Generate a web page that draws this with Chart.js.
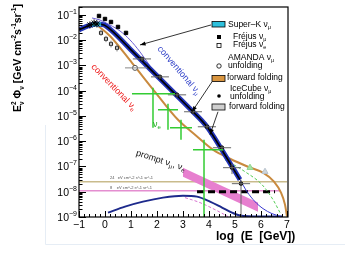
<!DOCTYPE html>
<html>
<head>
<meta charset="utf-8">
<script src="https://cdn.jsdelivr.net/npm/chart.js@4.4.0/dist/chart.umd.min.js"></script>
<style>
  html, body { margin: 0; padding: 0; background: #fff; }
  #wrap { width: 345px; height: 259px; }
</style>
</head>
<body>
<div id="wrap"><canvas id="c" width="345" height="259"></canvas></div>
<script>
const FONT = '"Liberation Sans", Arial, Helvetica, sans-serif';

// x = log10(E / GeV), y = E^2 * flux  [GeV cm^-2 s^-1 sr^-1]
const xTicks = [-1, 0, 1, 2, 3, 4, 5, 6, 7];
const yTickExp = [-1, -2, -3, -4, -5, -6, -7, -8, -9];

// conventional nu_mu (thick band)
const convMuE = [-1.0, -0.654, -0.346, -0.038, 0.269, 0.962, 1.731, 2.5, 3.269, 3.923, 4.538, 5.192];
const convMuF = [2.55e-2, 3.67e-2, 4.41e-2, 4.03e-2, 2.33e-2, 4.53e-3, 7.34e-4, 1.19e-4, 1.93e-5, 3.74e-6, 3.85e-7, 3.01e-8];
// high energy tail of the band
const muTailE = [5.192, 5.462, 5.769, 6.077, 6.423, 6.769];
const muTailF = [3.01e-8, 1.01e-8, 4.06e-9, 2.15e-9, 1.36e-9, 1.04e-9];
// upper thin curve at low energy
const muUpE = [-0.5, -0.192, 0.192, 0.577, 0.962, 1.346, 1.731];
const muUpF = [7.6e-2, 6.3e-2, 4.0e-2, 2.33e-2, 1.03e-2, 3.45e-3, 9.6e-4];
// orange curve (conventional nu_e / AMANDA forward folding)
const orangeE = [-0.308, 0.192, 1.038, 1.923, 2.808, 3.462, 4.154, 4.808, 5.5, 6.077, 6.5, 6.769, 6.923, 7.0];
const orangeF = [4.03e-2, 1.48e-2, 1.27e-3, 9.06e-5, 7.08e-6, 1.81e-6, 4.61e-7, 2.03e-7, 9.8e-8, 5.69e-8, 2.51e-8, 9.2e-9, 3.09e-9, 1.04e-9];
// green dashed
const greenDashE = [4.615, 5.385, 6.038, 6.462, 6.731];
const greenDashF = [1.86e-7, 6.22e-8, 1.91e-8, 4.87e-9, 1.49e-9];
// lower navy curve
const navyE = [0.115, 0.769, 1.462, 2.231, 3.0, 3.538, 4.038, 4.5, 4.885, 5.192, 5.962, 6.808];
const navyF = [1.49e-9, 2.58e-9, 4.06e-9, 5.85e-9, 7.01e-9, 6.40e-9, 4.06e-9, 2.36e-9, 1.49e-9, 1.14e-9, 1.04e-9, 1.04e-9];
// pink dashed
const pinkDashE = [3.077, 3.654, 4.231, 4.731];
const pinkDashF = [5.85e-9, 3.71e-9, 1.96e-9, 1.04e-9];
// prompt band
const promptE = [3.0, 5.885];
const promptHi = [8.97e-8, 3.71e-9];
const promptLo = [3.95e-8, 1.63e-9];
// horizontal reference levels
const tanE = [-1, 7];
const tanF = [2.51e-8, 2.51e-8];
const pinkE = [-1, 6.73];
const pinkF = [1.1e-8, 1.1e-8];
const blackDashE = [3.54, 6.54];
const blackDashF = [1.0e-8, 1.0e-8];
// Super-K
const superKE = [-0.5, -0.15];
const superKF = [4.2e-2, 4.3e-2];
const superKPtE = [-0.58, -0.42, -0.31];
const superKPtF = [4.03e-2, 4.83e-2, 4.41e-2];
// Frejus
const frejusMuE = [-0.231, 0.0, 0.231, 0.5, 0.808];
const frejusMuF = [9.13e-2, 6.95e-2, 5.28e-2, 3.36e-2, 1.95e-2];
const frejusEE = [-0.154, 0.038, 0.231, 0.462];
const frejusEF = [1.95e-2, 1.13e-2, 7.14e-3, 4.97e-3];
const frejusEFlo = [1.5e-2, 8.4e-3, 5.2e-3, 3.6e-3];
const frejusEFhi = [2.6e-2, 1.5e-2, 9.6e-3, 6.8e-3];
// AMANDA unfolding
const amandaE = [1.154];
const amandaF = [8.03e-4];
const amandaElo = [0.769];
const amandaEhi = [1.615];
// IceCube unfolding
const icE = [1.423, 2.115, 2.769, 3.385, 3.923, 4.5, 4.885, 5.231];
const icF = [1.82e-3, 3.54e-4, 6.88e-5, 1.47e-5, 3.74e-6, 5.53e-7, 8.97e-8, 2.09e-8];
const icElo = [1.07, 1.77, 2.42, 3.04, 3.57, 4.15, 4.54, 4.88];
const icEhi = [1.77, 2.46, 3.12, 3.73, 4.27, 4.85, 5.23, 5.58];
const icFlo = [1.5e-3, 2.9e-4, 5.6e-5, 1.2e-5, 3.0e-6, 4.0e-7, 5.0e-8, 1.0e-9];
const icFhi = [2.2e-3, 4.3e-4, 8.4e-5, 1.8e-5, 4.6e-6, 7.0e-7, 1.3e-7, 3.0e-8];
// nu_e crosses (green)
const nueE = [1.846, 2.423, 2.923, 3.808];
const nueF = [7.53e-5, 1.76e-5, 3.42e-6, 4.61e-7];
const nueElo = [1.038, 2.038, 2.5, 3.385];
const nueEhi = [2.692, 2.808, 3.346, 4.538];
const nueFlo = [3.42e-6, 2.85e-6, 1.15e-6, 1e-9];
const nueFhi = [1.30e-4, 3.03e-5, 7.08e-6, 1.15e-6];
// upper limits
const ulGreenE = [5.577];
const ulGreenF = [8.97e-8];
const ulGrayE = [6.154];
const ulGrayF = [6.22e-8];
// legend pointer arrows [fromE, fromF, toE, toF]
const arrows = [
  [4.077, 4.03e-2, 1.346, 6.52e-3],
  [4.115, 2.25e-4, 3.346, 1.47e-5],
  [4.346, 1.47e-5, 4.038, 1.81e-6],
];

const pt = (xs, ys) => xs.map((x, i) => ({ x, y: ys[i] }));

function curve(xs, ys, color, width, order, extra) {
  return Object.assign({
    data: pt(xs, ys), showLine: true, borderColor: color, borderWidth: width,
    pointRadius: 0, fill: false, cubicInterpolationMode: "monotone", order,
  }, extra || {});
}

function marks(xs, ys, style, r, bg, border, order) {
  return {
    data: pt(xs, ys), showLine: false, pointStyle: style, pointRadius: r,
    backgroundColor: bg, borderColor: border, borderWidth: 1, order,
  };
}

const datasets = [
  curve(tanE, tanF, "#c9bb8c", 1.5, 20),
  curve(pinkE, pinkF, "#e48ed0", 1.5, 19),
  curve(promptE, promptHi, "rgba(0,0,0,0)", 0, 18, { fill: "+1", backgroundColor: "#e77fcf" }),
  curve(promptE, promptLo, "rgba(0,0,0,0)", 0, 18),
  curve(pinkDashE, pinkDashF, "#d872d0", 1, 17, { borderDash: [3, 2] }),
  curve(navyE, navyF, "#1d2a8c", 2, 16),
  curve(blackDashE, blackDashF, "#000", 3, 15, { borderDash: [7, 4] }),
  curve(greenDashE, greenDashF, "#55cc55", 1, 14, { borderDash: [3, 2] }),
  curve(muTailE, muTailF, "#3a3ad0", 1, 13),
  curve(orangeE, orangeF, "#c98a3e", 2, 12),
  curve(muUpE, muUpF, "#6b5fd6", 1, 11),
  curve(convMuE, convMuF, "#2233b8", 5, 10),
  curve(convMuE, convMuF, "#000", 1.6, 9),
  curve(superKE, superKF, "#2ec0dc", 4, 8),
  marks(amandaE, amandaF, "circle", 2.5, "#fff", "#555", 5),
  marks(frejusEE, frejusEF, "rect", 2.2, "#fff", "#222", 4),
  marks(frejusMuE, frejusMuF, "rect", 2.4, "#000", "#000", 3),
  marks(icE, icF, "circle", 1.8, "#000", "#000", 2),
  marks(superKPtE, superKPtF, "star", 3.5, "#000", "#000", 1),
  marks(ulGreenE, ulGreenF, "triangle", 3.5, "#a6e4a6", "#8fd68f", 1),
  marks(ulGrayE, ulGrayF, "triangle", 3.5, "#cdd5dc", "#b8c2cc", 1),
];

// error bar groups built from the arrays above
const errGroups = [
  { e: frejusEE, f: frejusEF, flo: frejusEFlo, fhi: frejusEFhi, color: "#777", w: 1 },
  { e: amandaE, f: amandaF, elo: amandaElo, ehi: amandaEhi, color: "#888", w: 1 },
  { e: icE, f: icF, elo: icElo, ehi: icEhi, flo: icFlo, fhi: icFhi, color: "#666", w: 1 },
  { e: nueE, f: nueF, elo: nueElo, ehi: nueEhi, flo: nueFlo, fhi: nueFhi, color: "#33cc33", w: 1.5 },
];

function rich(ctx, parts, x, y, opt) {
  // parts: [text, size, dy, noAdvance]
  const font = (s) => `${opt.bold ? "bold " : ""}${s}px ${FONT}`;
  let w = 0;
  parts.forEach((p) => { ctx.font = font(p[1]); if (!p[3]) w += ctx.measureText(p[0]).width; });
  ctx.save();
  ctx.translate(x, y);
  if (opt.rot) ctx.rotate(opt.rot);
  ctx.fillStyle = opt.color || "#000";
  ctx.textBaseline = "alphabetic";
  let cx = opt.align === "center" ? -w / 2 : opt.align === "right" ? -w : 0;
  parts.forEach((p) => {
    ctx.font = font(p[1]);
    ctx.fillText(p[0], cx, p[2]);
    if (!p[3]) cx += ctx.measureText(p[0]).width;
  });
  ctx.restore();
}

const deco = {
  id: "deco",
  afterDatasetsDraw(chart) {
    const { ctx } = chart;
    const X = chart.scales.x, Y = chart.scales.y;
    const px = (v) => X.getPixelForValue(v), py = (v) => Y.getPixelForValue(v);
    const ca = chart.chartArea;
    ctx.save();
    ctx.beginPath();
    ctx.rect(ca.left, ca.top, ca.right - ca.left, ca.bottom - ca.top);
    ctx.clip();
    errGroups.forEach((g) => {
      ctx.strokeStyle = g.color;
      ctx.lineWidth = g.w;
      g.e.forEach((e, i) => {
        ctx.beginPath();
        if (g.elo) { ctx.moveTo(px(g.elo[i]), py(g.f[i])); ctx.lineTo(px(g.ehi[i]), py(g.f[i])); }
        if (g.flo) { ctx.moveTo(px(e), py(g.flo[i])); ctx.lineTo(px(e), py(g.fhi[i])); }
        ctx.stroke();
      });
    });
    // pointer arrows
    ctx.strokeStyle = "#000";
    ctx.fillStyle = "#000";
    ctx.lineWidth = 0.8;
    arrows.forEach((a) => {
      const x0 = px(a[0]), y0 = py(a[1]), x1 = px(a[2]), y1 = py(a[3]);
      ctx.beginPath(); ctx.moveTo(x0, y0); ctx.lineTo(x1, y1); ctx.stroke();
      const ang = Math.atan2(y1 - y0, x1 - x0);
      ctx.beginPath();
      ctx.moveTo(x1, y1);
      ctx.lineTo(x1 - 6 * Math.cos(ang - 0.35), y1 - 6 * Math.sin(ang - 0.35));
      ctx.lineTo(x1 - 6 * Math.cos(ang + 0.35), y1 - 6 * Math.sin(ang + 0.35));
      ctx.closePath(); ctx.fill();
    });
    ctx.restore();

    // curve labels
    rich(ctx, [["conventional ν", 9, 0], ["μ", 6, 2]], 177, 72, { rot: 0.86, align: "center", color: "#3040c8" });
    rich(ctx, [["conventional ν", 9, 0], ["e", 6, 2]], 112, 89, { rot: 0.80, align: "center", color: "#ee2020" });
    rich(ctx, [["ν", 9, 0], ["e", 6, 2]], 153, 127, { color: "#22aa22" });
    rich(ctx, [["prompt ν", 9, 0], ["μ", 6, 2], [", ν", 9, 0], ["e", 6, 2]], 160, 163, { rot: 0.31, align: "center", color: "#111" });
    ctx.fillStyle = "#555";
    ctx.font = `4px ${FONT}`;
    ctx.fillText("24   eV cm^-2 s^-1 sr^-1", 110, 179);
    ctx.fillText("8    eV cm^-2 s^-1 sr^-1", 110, 189);
  },
  afterDraw(chart) {
    const { ctx } = chart;
    const X = chart.scales.x, Y = chart.scales.y;
    const ca = chart.chartArea;
    ctx.save();
    // faint outer frame of the figure
    ctx.strokeStyle = "#e6edf5";
    ctx.lineWidth = 1;
    ctx.beginPath(); ctx.moveTo(45.5, 125); ctx.lineTo(45.5, 244.5); ctx.lineTo(345, 244.5); ctx.stroke();
    // box
    ctx.strokeStyle = "#000";
    ctx.lineWidth = 1.2;
    ctx.strokeRect(ca.left, ca.top, ca.right - ca.left + 1, ca.bottom - ca.top);
    // y ticks
    ctx.lineWidth = 1;
    ctx.beginPath();
    yTickExp.forEach((d) => {
      for (let m = 1; m <= 9; m++) {
        const v = m * Math.pow(10, d);
        if (v > Y.max) continue;
        const yy = Math.round(Y.getPixelForValue(v)) + 0.5;
        ctx.moveTo(ca.left, yy); ctx.lineTo(ca.left + (m === 1 ? 7 : 3.5), yy);
      }
    });
    // x ticks
    for (let k = 0; k <= 40; k++) {
      const v = -1 + k * 0.2;
      const xx = Math.round(X.getPixelForValue(v)) + 0.5;
      ctx.moveTo(xx, ca.bottom); ctx.lineTo(xx, ca.bottom - (k % 5 === 0 ? 6 : 3));
    }
    ctx.stroke();
    // tick labels
    yTickExp.forEach((d) => {
      const yy = Y.getPixelForValue(Math.pow(10, d));
      rich(ctx, [["10", 10.5, 0], [`−${-d}`, 7, -5]], 77, yy + 4, { align: "right" });
    });
    ctx.fillStyle = "#000";
    ctx.font = `10.5px ${FONT}`;
    ctx.textAlign = "center";
    ctx.textBaseline = "middle";
    xTicks.forEach((t) => {
      ctx.fillText(t < 0 ? `−${-t}` : String(t), X.getPixelForValue(t), 225);
    });
    ctx.textAlign = "left";
    ctx.textBaseline = "alphabetic";
    // axis titles
    rich(ctx, [["log  (E  [GeV])", 12, 0]], 216, 240, { bold: true });
    rich(ctx, [["E", 10.5, 0], ["2", 6.5, -5, true], ["ν", 6.5, 3], [" Φ", 10.5, 0], ["ν", 6.5, 3],
      [" [GeV cm", 10.5, 0], ["-2", 6.5, -5], ["s", 10.5, 0], ["-1", 6.5, -5], ["sr", 10.5, 0], ["-1", 6.5, -5], ["]", 10.5, 0]],
      21, 58, { rot: -Math.PI / 2, align: "center", bold: true });

    // legend
    ctx.lineWidth = 0.8;
    ctx.strokeStyle = "#000";
    ctx.fillStyle = "#2ec0dc"; ctx.fillRect(212, 21.5, 13, 5.5); ctx.strokeRect(212, 21.5, 13, 5.5);
    ctx.fillStyle = "#d9953f"; ctx.fillRect(212, 75.5, 13, 6); ctx.strokeRect(212, 75.5, 13, 6);
    ctx.fillStyle = "#cfcfcf"; ctx.fillRect(212, 104, 13, 6); ctx.strokeRect(212, 104, 13, 6);
    ctx.fillStyle = "#000"; ctx.fillRect(217, 35, 4, 4);
    ctx.fillStyle = "#fff"; ctx.fillRect(217, 43.5, 4, 4); ctx.strokeRect(217, 43.5, 4, 4);
    ctx.beginPath(); ctx.arc(219, 66, 2.2, 0, Math.PI * 2); ctx.fill(); ctx.stroke();
    ctx.fillStyle = "#000";
    ctx.beginPath(); ctx.arc(219, 96, 1.8, 0, Math.PI * 2); ctx.fill();
    const L = [
      [[["Super–K ν", 8.5, 0], ["μ", 5.5, 2]], 228, 27],
      [[["Fréjus ν", 8.5, 0], ["μ", 5.5, 2]], 233, 39],
      [[["Fréjus ν", 8.5, 0], ["e", 5.5, 2]], 233, 47],
      [[["AMANDA ν", 8.5, 0], ["μ", 5.5, 2]], 228, 60],
      [[["unfolding", 8.5, 0]], 228, 68],
      [[["forward folding", 8.5, 0]], 227, 80],
      [[["IceCube ν", 8.5, 0], ["μ", 5.5, 2]], 230, 91],
      [[["unfolding", 8.5, 0]], 230, 99],
      [[["forward folding", 8.5, 0]], 229, 109],
    ];
    L.forEach((l) => rich(ctx, l[0], l[1], l[2], {}));
    ctx.restore();
  },
};

new Chart(document.getElementById("c"), {
  type: "scatter",
  data: { datasets },
  options: {
    responsive: false, animation: false, devicePixelRatio: 1,
    layout: { padding: { left: 79, top: 7, right: 58, bottom: 42 } },
    plugins: { legend: { display: false }, tooltip: { enabled: false } },
    scales: {
      x: { type: "linear", min: -1, max: 7, display: false },
      y: { type: "logarithmic", min: 1e-9, max: 0.207, display: false },
    },
  },
  plugins: [deco],
});
</script>
</body>
</html>
